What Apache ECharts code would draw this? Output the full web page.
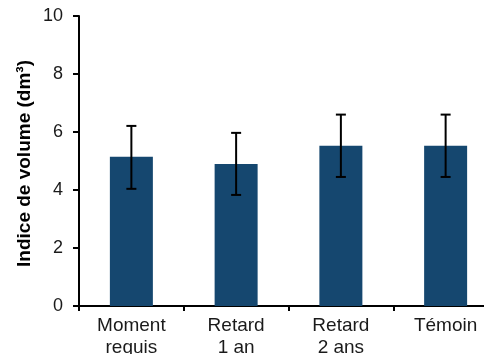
<!DOCTYPE html>
<html><head><meta charset="utf-8">
<script src="https://cdn.jsdelivr.net/npm/echarts@6/dist/echarts.min.js"></script>
<style>html,body{margin:0;padding:0;background:#fff}#c{width:484px;height:354px}</style>
</head><body><div id="c"></div>
<script>
const categories = ["Moment\nrequis", "Retard\n1 an", "Retard\n2 ans", "Témoin"];
const values = [5.15, 4.90, 5.53, 5.53];
const errLow = [4.04, 3.83, 4.45, 4.45];
const errHigh = [6.21, 5.97, 6.60, 6.60];
const yTicks = [0, 2, 4, 6, 8, 10];
const yName = "Indice de volume (dm³)";

const errData = categories.map((c, i) => [i, errLow[i], errHigh[i]]);
const font = "Liberation Sans, Arial, sans-serif";
const chart = echarts.init(document.getElementById('c'));
chart.setOption({
  animation: false,
  grid: { left: 79, width: 419, top: 16, bottom: 48, containLabel: false, outerBoundsMode: 'none' },
  graphic: [{
    type: 'text', x: 25, y: 163.5, rotation: Math.PI / 2,
    style: { text: yName, fontSize: 19, fontWeight: 'bold', fill: '#000', fontFamily: font,
             align: 'center', verticalAlign: 'middle' }
  }],
  xAxis: {
    type: 'category', data: categories,
    axisLine: { lineStyle: { color: '#000', width: 2 } },
    axisTick: { show: true, length: 5, lineStyle: { color: '#000', width: 2 } },
    axisLabel: { color: '#1a1a1a', fontSize: 19, fontFamily: font, margin: 9, lineHeight: 22, interval: 0 }
  },
  yAxis: {
    type: 'value', min: yTicks[0], max: yTicks[yTicks.length - 1], interval: 2,
    axisLine: { show: true, lineStyle: { color: '#000', width: 2 } },
    axisTick: { show: true, length: 6, lineStyle: { color: '#000', width: 2 } },
    axisLabel: { color: '#1a1a1a', fontSize: 18, fontFamily: font, margin: 16 },
    splitLine: { show: false }
  },
  series: [
    { type: 'bar', data: values, barWidth: 43, itemStyle: { color: '#15476F' } },
    {
      type: 'custom', data: errData, z: 10,
      renderItem: function (params, api) {
        const x = api.value(0);
        const lo = api.coord([x, api.value(1)]);
        const hi = api.coord([x, api.value(2)]);
        const hw = 5;
        const st = { stroke: '#000', lineWidth: 2 };
        return { type: 'group', children: [
          { type: 'line', shape: { x1: lo[0], y1: lo[1], x2: hi[0], y2: hi[1] }, style: st },
          { type: 'line', shape: { x1: lo[0] - hw, y1: lo[1], x2: lo[0] + hw, y2: lo[1] }, style: st },
          { type: 'line', shape: { x1: hi[0] - hw, y1: hi[1], x2: hi[0] + hw, y2: hi[1] }, style: st }
        ]};
      }
    }
  ]
});
</script></body></html>
